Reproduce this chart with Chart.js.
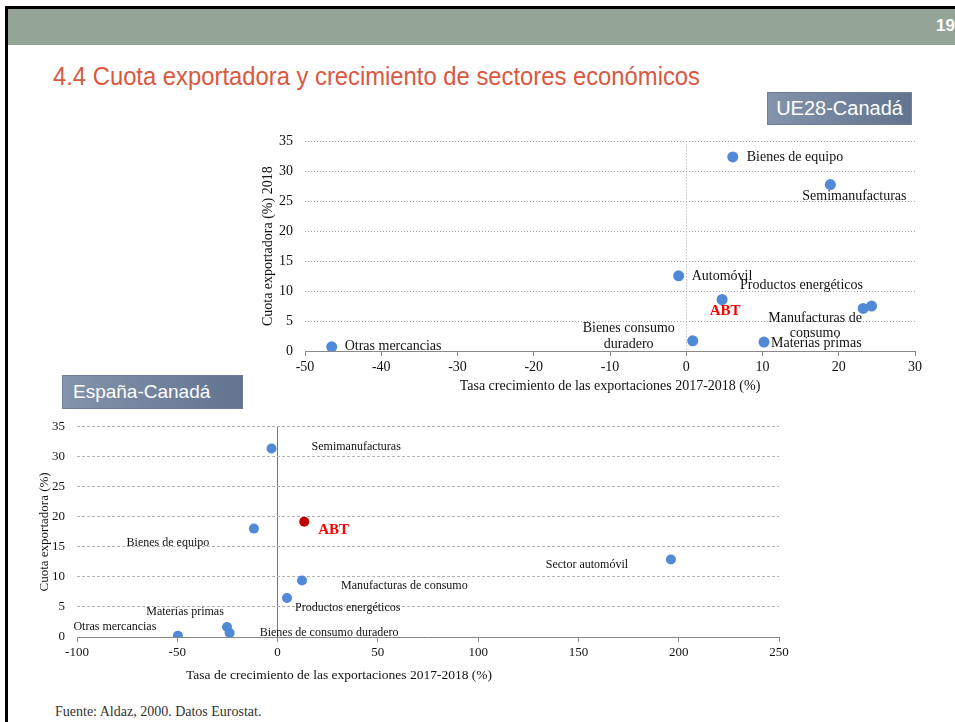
<!DOCTYPE html>
<html><head><meta charset="utf-8">
<script src="https://cdn.jsdelivr.net/npm/chart.js@4/dist/chart.umd.min.js"></script>
<style>
html,body{margin:0;padding:0;background:#fff;}
body{width:955px;height:722px;position:relative;overflow:hidden;font-family:"Liberation Serif","Times New Roman",serif;}
.frame{position:absolute;left:5px;top:6px;width:970px;height:740px;border-left:3px solid #000;border-top:3px solid #000;box-sizing:border-box;}
.band{position:absolute;left:8px;top:9px;width:947px;height:36px;background:#94A598;}
.pnum{position:absolute;left:936px;top:16px;color:#fff;font:bold 17px "Liberation Sans",Arial,sans-serif;}
#title{position:absolute;left:53px;top:63px;font:26px/1 "Liberation Sans",Arial,sans-serif;color:#D9583F;white-space:nowrap;transform-origin:0 0;}
.tag{position:absolute;color:#fff;font-family:"Liberation Sans",Arial,sans-serif;background:linear-gradient(90deg,#8393AB,#62738F);border:1px solid #6f7f98;box-sizing:border-box;white-space:nowrap;}
#tagTop{left:767px;top:92px;width:145px;height:33px;font-size:20px;line-height:31px;text-align:center;}
#tagBot{left:62px;top:375px;width:181px;height:34px;font-size:19px;line-height:32px;padding-left:10px;}
.wrap{position:absolute;}
#topWrap{left:240px;top:121px;width:700px;height:279px;}
#botWrap{left:0px;top:407px;width:800px;height:288px;}
#botXTitle{position:absolute;left:186px;top:667px;font-size:13.5px;color:#111;white-space:nowrap;}
#footer{position:absolute;left:55px;top:704px;font-size:14px;color:#333;white-space:nowrap;}
</style></head>
<body>
<div class="frame"></div>
<div class="band"></div>
<div class="pnum">19</div>
<div id="title">4.4 Cuota exportadora y crecimiento de sectores económicos</div>
<div class="tag" id="tagTop">UE28-Canadá</div>
<div class="tag" id="tagBot">España-Canadá</div>
<div class="wrap" id="topWrap"><canvas id="cTop"></canvas></div>
<div class="wrap" id="botWrap"><canvas id="cBot"></canvas></div>
<div id="botXTitle">Tasa de crecimiento de las exportaciones 2017-2018 (%)</div>
<div id="footer">Fuente: Aldaz, 2000. Datos Eurostat.</div>
<script>
// ---------- DATA ----------
// UE28-Canadá
const topSectors = ['Bienes de equipo','Semimanufacturas','Automóvil','Productos energéticos','ABT','Manufacturas de consumo','Bienes consumo duradero','Materias primas','Otras mercancias'];
const topGrowth  = [6.1, 18.9, -1.0, 24.3, 4.7, 23.2, 0.85, 10.2, -46.5];
const topShare   = [32.4, 27.8, 12.55, 7.5, 8.6, 7.1, 1.7, 1.5, 0.7];
const topXTitle = 'Tasa crecimiento de las exportaciones 2017-2018 (%)';
const topYTitle = 'Cuota exportadora (%) 2018';

// España-Canadá
const botSectors = ['Semimanufacturas','Bienes de equipo','ABT','Sector automóvil','Manufacturas de consumo','Productos energéticos','Materias primas','Otras mercancias','Bienes de consumo duradero'];
const botGrowth  = [-3.0, -11.8, 13.3, 196.1, 12.2, 4.7, -25.2, -49.7, -23.9];
const botShare   = [31.4, 18.05, 19.2, 12.9, 9.4, 6.5, 1.66, 0.2, 0.66];
const botYTitle = 'Cuota exportadora (%)';

// ---------- LABEL STYLE (offsets in px from each point) ----------
const topLabelStyle = [
  {dx:14, dy:0, align:'left'},
  {dx:24, dy:12, align:'center'},
  {dx:13, dy:0, align:'left'},
  {dx:-70, dy:-21, align:'center'},
  {dx:3, dy:12, align:'center', hl:true},
  {dx:-48, dy:10, align:'center', br:2, lh:15},
  {dx:-64, dy:-12, align:'center', br:2, lh:16},
  {dx:7, dy:1, align:'left'},
  {dx:13, dy:0, align:'left'}
];
const botLabelStyle = [
  {dx:40, dy:-2, align:'left'},
  {dx:-86, dy:14, align:'center'},
  {dx:14, dy:8, align:'left', hl:true},
  {dx:-84, dy:5, align:'center'},
  {dx:39, dy:5, align:'left'},
  {dx:8, dy:10, align:'left'},
  {dx:-42, dy:-15, align:'center'},
  {dx:-63, dy:-9, align:'center'},
  {dx:30, dy:0, align:'left'}
];

const SERIF = "'Liberation Serif','Times New Roman',serif";
const BLUE = '#5089D6', RED = '#C00000', HLTXT = '#FF0000';

const pointLabels = {
  id:'pointLabels',
  afterDatasetsDraw(chart, args, opts){
    const meta = chart.getDatasetMeta(0);
    const ctx = chart.ctx;
    ctx.save();
    ctx.textBaseline = 'middle';
    opts.names.forEach((name,i)=>{
      const st = opts.style[i];
      const el = meta.data[i];
      const x = el.x + st.dx, y = el.y + st.dy;
      ctx.textAlign = st.align;
      if (st.hl){ ctx.font = 'bold ' + opts.hlSize + 'px ' + SERIF; ctx.fillStyle = HLTXT; }
      else { ctx.font = opts.size + 'px ' + SERIF; ctx.fillStyle = '#111'; }
      if (st.br){
        const w = name.split(' ');
        ctx.fillText(w.slice(0,st.br).join(' '), x, y);
        ctx.fillText(w.slice(st.br).join(' '), x, y + st.lh);
      } else ctx.fillText(name, x, y);
    });
    ctx.restore();
  }
};

function makeChart(id, names, xs, ys, cfg){
  const pts = xs.map((x,i)=>({x:x, y:ys[i]}));
  return new Chart(document.getElementById(id), {
    type:'scatter',
    data:{datasets:[{data:pts,
      pointRadius:cfg.r, pointHoverRadius:cfg.r, pointBorderWidth:0,
      pointBackgroundColor: names.map(n => (cfg.redABT && n==='ABT') ? RED : BLUE),
      pointBorderColor: names.map(n => (cfg.redABT && n==='ABT') ? RED : BLUE)}]},
    options:{
      responsive:true, maintainAspectRatio:false, animation:false,
      layout:{padding:{left:0, top:cfg.padTop, right:cfg.padRight, bottom:0}},
      plugins:{legend:{display:false}, tooltip:{enabled:false},
        pointLabels:{names:names, style:cfg.style, size:cfg.labelSize, hlSize:15}},
      scales:{
        x:{type:'linear', min:cfg.xmin, max:cfg.xmax,
          ticks:{stepSize:cfg.xstep, font:{family:SERIF, size:cfg.tickSize}, color:'#111', padding:cfg.xTickPad, maxRotation:0},
          grid:{color:c => c.tick && c.tick.value===0 ? cfg.zeroColor : 'rgba(0,0,0,0)', lineWidth:1,
                drawTicks:true, tickLength:5, tickColor:'#888', tickBorderDash:[]},
          border:{display:true, color:'#888', width:1, dash:cfg.zeroDash},
          title:{display:!!cfg.xTitle, text:cfg.xTitle || '', font:{family:SERIF, size:cfg.titleSize}, color:'#111', padding:{top:0, bottom:cfg.xTitlePadB}},
          afterFit:s => { s.height = cfg.xH; }
        },
        y:{type:'linear', min:0, max:35,
          ticks:{stepSize:5, font:{family:SERIF, size:cfg.tickSize}, color:'#111', padding:12},
          grid:{color:c => c.tick && c.tick.value===0 ? 'rgba(0,0,0,0)' : cfg.gridColor, lineWidth:1, drawTicks:false},
          border:{display:false, dash:cfg.gridDash},
          title:{display:true, text:cfg.yTitle, font:{family:SERIF, size:cfg.titleSize}, color:'#111', padding:{top:cfg.yTitlePadT, bottom:0}},
          afterFit:s => { s.width = cfg.yW; }
        }
      }
    },
    plugins:[pointLabels]
  });
}

function draw(){
  const t = document.getElementById('title');
  const w = t.getBoundingClientRect().width;
  t.style.transform = 'scaleX(' + (647 / w) + ')';

  makeChart('cTop', topSectors, topGrowth, topShare, {
    r:5.5, redABT:false, style:topLabelStyle, labelSize:14,
    padTop:6, padRight:25, xmin:-50, xmax:30, xstep:10, tickSize:14, titleSize:14,
    xTickPad:3, zeroColor:'#a6a6a6', zeroDash:[1,2], gridColor:'#a6a6a6', gridDash:[1,2],
    xTitle:topXTitle, xTitlePadB:5, xH:49, yTitle:topYTitle, yTitlePadT:20, yW:65
  });
  makeChart('cBot', botSectors, botGrowth, botShare, {
    r:5, redABT:true, style:botLabelStyle, labelSize:12,
    padTop:3, padRight:21, xmin:-100, xmax:250, xstep:50, tickSize:13, titleSize:13,
    xTickPad:3, zeroColor:'#777', zeroDash:[], gridColor:'#b3b3b3', gridDash:[3,2],
    xTitle:null, xTitlePadB:0, xH:58, yTitle:botYTitle, yTitlePadT:37, yW:77
  });
}
if (document.fonts && document.fonts.ready) document.fonts.ready.then(draw); else draw();
</script>
</body></html>
